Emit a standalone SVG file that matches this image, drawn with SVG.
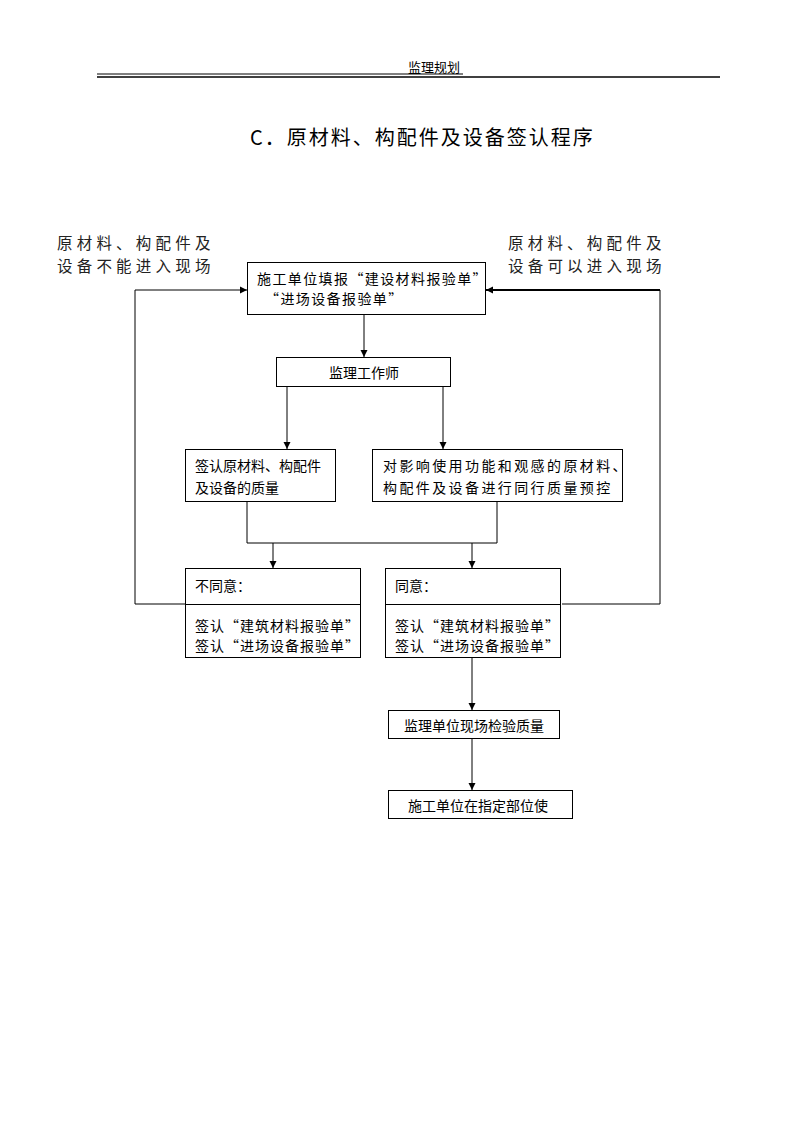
<svg xmlns="http://www.w3.org/2000/svg" width="794" height="1123" viewBox="0 0 794 1123">
<defs>
<marker id="ah" markerWidth="8" markerHeight="8" refX="7" refY="4" orient="auto" markerUnits="userSpaceOnUse">
<path d="M0,0.5 L7,4 L0,7.5 Z" fill="#000"/>
</marker>
</defs>
<style>
text{font-family:"Noto Sans CJK SC","Liberation Sans",sans-serif;fill:#000}
.t{font-size:14px}
.lab{font-size:15.5px;fill:#222;letter-spacing:4.2px}
.title{font-size:20px;letter-spacing:2px;font-family:"Noto Sans CJK SC","Liberation Serif",serif}
.box{fill:#fff;stroke:#000;stroke-width:1}
.ln{fill:none;stroke:#000;stroke-width:1}
</style>
<rect width="794" height="1123" fill="#fff"/>
<g id="header">
<text x="434" y="72" text-anchor="middle" style="font-size:13px">监理规划</text>
<line x1="97" y1="74" x2="463" y2="74" stroke="#000" stroke-width="1"/>
<line x1="97" y1="77" x2="720" y2="77" stroke="#000" stroke-width="1.5"/>
</g>
<g id="title">
<text class="title" x="250" y="145">C．原材料、构配件及设备签认程序</text>
</g>
<g id="label-left">
<text class="lab" x="57" y="249">原材料、构配件及</text>
<text class="lab" x="57" y="272">设备不能进入现场</text>
</g>
<g id="label-right">
<text class="lab" x="508" y="249">原材料、构配件及</text>
<text class="lab" x="508" y="272">设备可以进入现场</text>
</g>
<g id="connectors">
<line class="ln" x1="364" y1="314" x2="364" y2="357" marker-end="url(#ah)"/>
<line class="ln" x1="287" y1="387" x2="287" y2="449" marker-end="url(#ah)"/>
<line class="ln" x1="443" y1="387" x2="443" y2="449" marker-end="url(#ah)"/>
<polyline class="ln" points="247,501 247,543 497,543 497,501"/>
<line class="ln" x1="273" y1="543" x2="273" y2="568" marker-end="url(#ah)"/>
<line class="ln" x1="472" y1="543" x2="472" y2="568" marker-end="url(#ah)"/>
<polyline class="ln" points="185,604 135,604 135,290 247,290" marker-end="url(#ah)"/>
<polyline class="ln" points="562,604 660,604 660,290"/>
<line x1="660" y1="290" x2="486" y2="290" stroke="#000" stroke-width="2" marker-end="url(#ah)"/>
<line class="ln" x1="472" y1="657" x2="472" y2="710" marker-end="url(#ah)"/>
<line class="ln" x1="472" y1="738" x2="472" y2="790" marker-end="url(#ah)"/>
</g>
<g id="n1">
<rect class="box" x="247.5" y="262.5" width="238" height="52"/>
<text class="t" x="257" y="284" style="letter-spacing:1.4px">施工单位填报“建设材料报验单”</text>
<text class="t" x="265" y="304" style="letter-spacing:1.4px">“进场设备报验单”</text>
</g>
<g id="n2">
<rect class="box" x="276.5" y="357.5" width="174" height="29"/>
<text class="t" x="364" y="378" text-anchor="middle">监理工作师</text>
</g>
<g id="n3">
<rect class="box" x="185.5" y="449.5" width="150" height="52"/>
<text class="t" x="195" y="471">签认原材料、构配件</text>
<text class="t" x="195" y="493">及设备的质量</text>
</g>
<g id="n4">
<rect class="box" x="372.5" y="449.5" width="250" height="52"/>
<text class="t" x="383" y="471" style="letter-spacing:2.4px">对影响使用功能和观感的原材料、</text>
<text class="t" x="383" y="493" style="letter-spacing:2.4px">构配件及设备进行同行质量预控</text>
</g>
<g id="n5">
<rect class="box" x="185.5" y="568.5" width="175" height="89"/>
<line class="ln" x1="185.5" y1="604.5" x2="360.5" y2="604.5"/>
<text class="t" x="195" y="591">不同意：</text>
<text class="t" x="195" y="631" style="letter-spacing:1px">签认“建筑材料报验单”</text>
<text class="t" x="195" y="651" style="letter-spacing:1px">签认“进场设备报验单”</text>
</g>
<g id="n6">
<rect class="box" x="385.5" y="568.5" width="175" height="89"/>
<line class="ln" x1="385.5" y1="604.5" x2="560.5" y2="604.5"/>
<text class="t" x="395" y="591">同意：</text>
<text class="t" x="395" y="631" style="letter-spacing:1px">签认“建筑材料报验单”</text>
<text class="t" x="395" y="651" style="letter-spacing:1px">签认“进场设备报验单”</text>
</g>
<g id="n7">
<rect class="box" x="388.5" y="710.5" width="171" height="28"/>
<text class="t" x="474" y="731" text-anchor="middle">监理单位现场检验质量</text>
</g>
<g id="n8">
<rect class="box" x="388.5" y="790.5" width="184" height="28"/>
<text class="t" x="408" y="811">施工单位在指定部位使</text>
</g>
</svg>
